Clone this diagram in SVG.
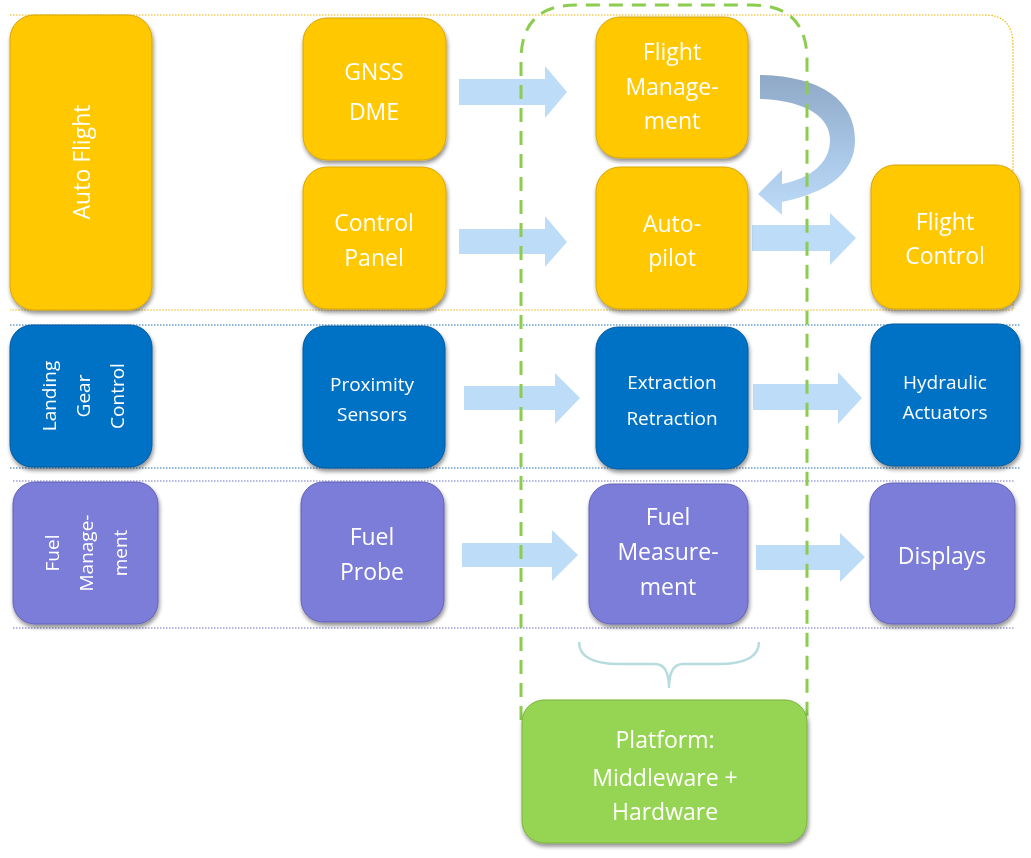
<svg xmlns="http://www.w3.org/2000/svg" width="1031" height="858" viewBox="0 0 1031 858">
<defs>
<filter id="sh" x="-10%" y="-10%" width="125%" height="125%"><feGaussianBlur in="SourceAlpha" stdDeviation="2"/><feOffset dx="1" dy="3"/><feComponentTransfer><feFuncA type="linear" slope="0.45"/></feComponentTransfer><feMerge><feMergeNode/><feMergeNode in="SourceGraphic"/></feMerge></filter>
<linearGradient id="cg" x1="0" y1="0" x2="0" y2="1"><stop offset="0" stop-color="#8fa8c6"/><stop offset="0.55" stop-color="#a8c6e6"/><stop offset="1" stop-color="#bddcf8"/></linearGradient>
</defs>
<style>
.y{fill:#ffc800;stroke:#d9a600;stroke-width:1}
.b{fill:#0072c6;stroke:#005a9c;stroke-width:1}
.p{fill:#7b7bd9;stroke:#6262b8;stroke-width:1}
.g{fill:#96d552;stroke:#78b23a;stroke-width:1}
.n{filter:url(#sh)}
text{font-family:"Open Sans","Liberation Sans",sans-serif;fill:#fff;text-anchor:middle}
.t{font-size:23px}
.s{font-size:19px}
.arr{fill:#bddcf8}
</style>
<!-- bands -->
<path d="M10 15 H985 Q1013 15 1013 45 V310 H10" fill="none" stroke="#f0b400" stroke-width="1.2" stroke-dasharray="1.5 1.5"/>
<path d="M10 325 H1020 M10 468 H1020" fill="none" stroke="#1a6fb8" stroke-width="1.2" stroke-dasharray="1.5 1.5"/>
<path d="M13 481 H1015 M13 628 H1015" fill="none" stroke="#6f6fc8" stroke-width="1.2" stroke-dasharray="1.5 1.5"/>
<g id="connectors">
<polygon class="arr" points="459,79 545,79 545,66 567,92 545,118 545,105 459,105"/>
<polygon class="arr" points="459,229 545,229 545,216 567,242 545,267 545,254 459,254"/>
<polygon class="arr" points="464,386 555,386 555,373 580,398 555,424 555,410 464,410"/>
<polygon class="arr" points="462,543 552,543 552,530 578,555 552,581 552,567 462,567"/>
<polygon class="arr" points="752,225 830,225 830,213 856,238 830,265 830,251 752,251"/>
<polygon class="arr" points="753,384 838,384 838,372 862,398 838,424 838,410 753,410"/>
<polygon class="arr" points="756,545 840,545 840,533 865,557 840,582 840,570 756,570"/>
<path d="M760 75 C 820 76 855 100 855 140 C 855 172 830 192 782 202 L 782 215 L 758 194 L 782 170 L 782 184 C 812 178 830 162 830 140 C 830 118 808 101 760 99 Z" fill="url(#cg)"/>
</g>
<path d="M521 720 V60 Q521 5 576 5 H752 Q807 5 807 60 V720" fill="none" stroke="#8ccc4e" stroke-width="3" stroke-dasharray="14 9"/>
<path d="M579 642 Q579 664 620 664 H655 Q669 664 669 688 Q669 664 683 664 H718 Q759 664 759 642" fill="none" stroke="#b6dce0" stroke-width="2.5"/>
<g id="autoflight" class="n"><rect class="y" x="10" y="15" width="142" height="295" rx="24"/><text class="t" transform="translate(90 162) rotate(-90)">Auto Flight</text></g>
<g id="gnss" class="n"><rect class="y" x="303" y="18" width="143" height="142" rx="24"/><text class="t" x="374" y="80">GNSS</text><text class="t" x="374" y="120">DME</text></g>
<g id="cpanel" class="n"><rect class="y" x="303" y="167" width="143" height="142" rx="24"/><text class="t" x="374" y="231">Control</text><text class="t" x="374" y="266">Panel</text></g>
<g id="fm" class="n"><rect class="y" x="596" y="17" width="152" height="141" rx="24"/><text class="t" x="672" y="60">Flight</text><text class="t" x="672" y="95">Manage-</text><text class="t" x="672" y="129">ment</text></g>
<g id="ap" class="n"><rect class="y" x="596" y="167" width="152" height="142" rx="24"/><text class="t" x="672" y="232">Auto-</text><text class="t" x="672" y="266">pilot</text></g>
<g id="fc" class="n"><rect class="y" x="871" y="165" width="149" height="144" rx="24"/><text class="t" x="945" y="230">Flight</text><text class="t" x="945" y="264">Control</text></g>
<g id="lgc" class="n"><rect class="b" x="10" y="325" width="142" height="142" rx="22"/><g transform="translate(82 396) rotate(-90)"><text class="s" x="0" y="-26">Landing</text><text class="s" x="0" y="8">Gear</text><text class="s" x="0" y="42">Control</text></g></g>
<g id="prox" class="n"><rect class="b" x="303" y="326" width="142" height="142" rx="22"/><text class="s" x="372" y="391">Proximity</text><text class="s" x="372" y="421">Sensors</text></g>
<g id="ext" class="n"><rect class="b" x="596" y="327" width="152" height="142" rx="22"/><text class="s" x="672" y="389">Extraction</text><text class="s" x="672" y="425">Retraction</text></g>
<g id="hyd" class="n"><rect class="b" x="871" y="324" width="149" height="142" rx="22"/><text class="s" x="945" y="389">Hydraulic</text><text class="s" x="945" y="419">Actuators</text></g>
<g id="fuelmgmt" class="n"><rect class="p" x="13" y="482" width="145" height="142" rx="22"/><g transform="translate(85 553) rotate(-90)"><text class="s" x="0" y="-26">Fuel</text><text class="s" x="0" y="8">Manage-</text><text class="s" x="0" y="42">ment</text></g></g>
<g id="probe" class="n"><rect class="p" x="301" y="482" width="143" height="140" rx="22"/><text class="t" x="372" y="545">Fuel</text><text class="t" x="372" y="580">Probe</text></g>
<g id="meas" class="n"><rect class="p" x="589" y="484" width="159" height="140" rx="22"/><text class="t" x="668" y="525">Fuel</text><text class="t" x="668" y="560">Measure-</text><text class="t" x="668" y="595">ment</text></g>
<g id="disp" class="n"><rect class="p" x="870" y="483" width="145" height="141" rx="22"/><text class="t" x="942" y="564">Displays</text></g>
<g id="platform" class="n"><rect class="g" x="522" y="700" width="285" height="143" rx="22"/><text class="t" x="665" y="748">Platform:</text><text class="t" x="665" y="786">Middleware +</text><text class="t" x="665" y="820">Hardware</text></g>
</svg>
